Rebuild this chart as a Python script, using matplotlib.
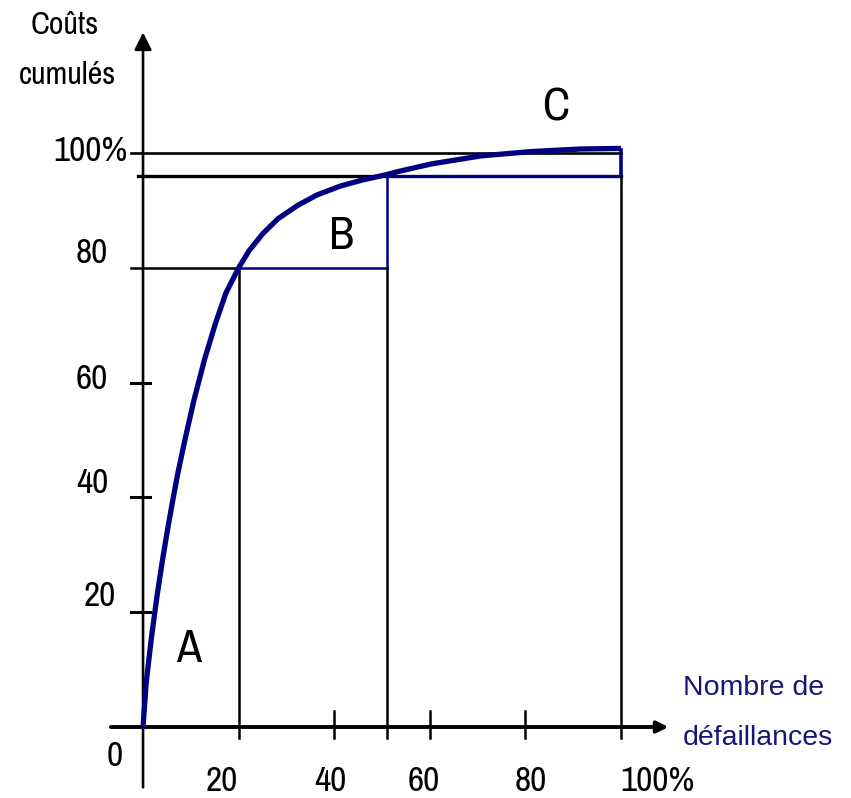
import matplotlib.pyplot as plt
from matplotlib import font_manager
from matplotlib.font_manager import FontProperties

x_defaillances = [0, 0.67, 1.78, 2.89, 4.0, 5.11, 6.22, 7.33, 8.89, 10.67, 12.89, 15.11,
                  17.33, 20, 22.2, 25.1, 28.3, 32.4, 36.4, 41.3, 45.9, 51, 53.5, 60.3,
                  70.7, 81.1, 91.5, 100]
y_couts = [0, 7.8, 15.7, 22.6, 28.7, 34.3, 39.5, 44.4, 50.5, 57.0, 64.1, 70.2,
           75.6, 80, 83.0, 86.0, 88.6, 90.9, 92.7, 94.25, 95.3, 96.25, 96.8, 98.1,
           99.5, 100.25, 100.7, 100.8]

# limites des classes A / B / C
x_lim_A, x_lim_B, x_lim_C = 20, 51, 100
y_lim_A, y_lim_B, y_lim_C = 80, 96, 100

x_tick_labels = ['20', '40', '60', '80', '100%']
y_tick_labels = ['20', '40', '60', '80', '100%']

# police étroite si disponible (le schéma d'origine est en Arial Narrow)
narrow = None
fonts = [f for f in font_manager.fontManager.ttflist
         if f.style == 'normal' and f.weight in (400, 'normal', 'regular')]
for pref in ['liberation sans narrow', 'arial narrow', 'narrow', 'condensed']:
    for f in fonts:
        if pref in f.name.lower() or (pref == 'condensed' and f.stretch == 'condensed'):
            narrow = f.fname
            break
    if narrow:
        break


def fp(size):
    if narrow:
        return FontProperties(fname=narrow, size=size)
    return FontProperties(family='Liberation Sans', size=size * 0.85)


NAVY = '#000080'
fig = plt.figure(figsize=(8.51, 7.98), dpi=100)
ax = fig.add_axes([0, 0, 1, 1])
ax.set_xlim(-29.92, 148.1)
ax.set_ylim(-12.37, 126.66)
ax.axis('off')

# axes avec flèches
ax.annotate('', xy=(110.5, 0), xytext=(-7.3, 0),
            arrowprops=dict(arrowstyle='-|>', color='black', lw=2.8, mutation_scale=17))
ax.annotate('', xy=(0, 121.5), xytext=(0, -11),
            arrowprops=dict(arrowstyle='-|>', color='black', lw=1.9, mutation_scale=26))

# graduations
for yt in [20, 40, 60]:
    ax.plot([-2.5, 1.5], [yt, yt], color='black', lw=2.2)
for xt in [40, 60, 80]:
    ax.plot([xt, xt], [2.8, -1.9], color='black', lw=1.8)

# lignes horizontales
ax.plot([-2.5, x_lim_C], [y_lim_C, y_lim_C], color='black', lw=1.9)
ax.plot([-2.5, x_lim_A], [y_lim_A, y_lim_A], color='black', lw=1.8)
ax.plot([x_lim_A, x_lim_B], [y_lim_A, y_lim_A], color=NAVY, lw=1.8)
ax.plot([-1, x_lim_B], [y_lim_B, y_lim_B], color='black', lw=2.4)
ax.plot([x_lim_B, x_lim_C], [y_lim_B, y_lim_B], color=NAVY, lw=2.4)

# lignes verticales
ax.plot([x_lim_A, x_lim_A], [y_lim_A, -1.9], color='black', lw=1.8)
ax.plot([x_lim_B, x_lim_B], [y_lim_B, y_lim_A], color=NAVY, lw=1.8)
ax.plot([x_lim_B, x_lim_B], [y_lim_A, -1.9], color='black', lw=1.8)
ax.plot([x_lim_C, x_lim_C], [y_lim_C + 0.6, y_lim_B], color=NAVY, lw=2.6)
ax.plot([x_lim_C, x_lim_C], [y_lim_B, -1.9], color='black', lw=1.8)

# courbe
ax.plot(x_defaillances, y_couts, color=NAVY, lw=3.8, solid_capstyle='butt',
        solid_joinstyle='round', zorder=5)

fs = 25.5
x_label_pos = [16.5, 39.1, 58.8, 81.2, 107.7]
for xp, lab in zip(x_label_pos, x_tick_labels):
    ax.text(xp, -9.4, lab, ha='center', va='center', fontproperties=fp(fs))
y_label_pos = [(-9.0, 22.8), (-10.7, 42.5), (-10.7, 60.6), (-10.7, 82.6), (-10.9, 100.3)]
for (xp, yp), lab in zip(y_label_pos, y_tick_labels):
    ax.text(xp, yp, lab, ha='center', va='center', fontproperties=fp(fs))
ax.text(-5.9, -5.1, '0', ha='center', va='center', fontproperties=fp(fs))

ax.text(9.6, 13.6, 'A', ha='center', va='center', fontproperties=fp(33))
ax.text(41.6, 85.5, 'B', ha='center', va='center', fontproperties=fp(33))
ax.text(86.4, 108, 'C', ha='center', va='center', fontproperties=fp(33))

ax.text(-16.3, 122.3, 'Coûts', ha='center', va='center', fontproperties=fp(23))
ax.text(-15.9, 113.6, 'cumulés', ha='center', va='center', fontproperties=fp(23))
ax.text(113, 6.8, 'Nombre de', ha='left', va='center', family='Liberation Sans',
        fontsize=20.5, color='#15157a')
ax.text(113, -1.9, 'défaillances', ha='left', va='center', family='Liberation Sans',
        fontsize=20.5, color='#15157a')

plt.savefig('out.png', dpi=100)
